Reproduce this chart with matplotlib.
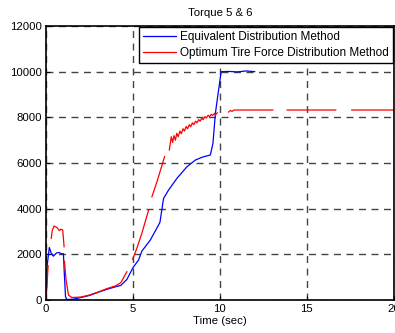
import numpy as np
import matplotlib
matplotlib.use('Agg')
import matplotlib.pyplot as plt

plt.rcParams['font.family'] = ['Liberation Sans', 'DejaVu Sans']
plt.rcParams['font.size'] = 8

nan = np.nan

# Equivalent Distribution Method (blue)
t_equiv = [0.0, 0.08, 0.19, 0.3, 0.42, 0.6, 0.75, 0.9, 1.0, 1.05, 1.12, 1.2,
           1.6, 2.0, 2.5, 3.0, 3.5, 4.0, 4.3, 4.65, 5.0, 5.32, 5.51, 6.0,
           6.47, 6.55, 6.76, 7.05, 7.53, 8.11, 8.59, 9.0, 9.45, 9.6, 9.74,
           10.07, 10.5, 11.0, 11.5, 12.0]
v_equiv = [0, 1600, 2300, 2050, 1920, 2060, 2080, 2020, 2030, 1200, 150, 20,
           40, 110, 200, 340, 470, 580, 640, 900, 1420, 1750, 2140, 2630,
           3285, 3400, 4450, 4820, 5330, 5840, 6130, 6260, 6350, 6860, 8180,
           10000, 10010, 9990, 10030, 10000]

# Optimum Tire Force Distribution Method (red), NaN marks gaps
t_optim = [0.0, 0.06, 0.12, nan,
           0.3, 0.36, 0.46, 0.62, 0.77, 0.85, 0.96, 1.04, nan,
           1.06, 1.15, 1.29, 1.48, 2.0, 2.5, 3.0, 3.5, 4.0, 4.3, 4.65, nan,
           4.98, 5.22, 5.51, 5.9, nan,
           6.09, 6.38, 6.82, nan,
           7.09, 7.2, 7.28, 7.36, 7.44, 7.52, 7.6, 7.7, 7.78, 7.88, 7.96,
           8.06, 8.14, 8.24, 8.32, 8.42, 8.5, 8.6, 8.68, 8.78, 8.86, 8.96,
           9.04, 9.14, 9.22, 9.32, 9.4, 9.5, 9.58, 9.68, 9.76, 9.85, nan,
           10.5, 10.6, 10.7, 10.8, 13.04, nan,
           13.87, 16.66, nan,
           17.58, 20.0]
v_optim = [0, 700, 1500, nan,
           2700, 3050, 3240, 3180, 3040, 3100, 3070, 2330, nan,
           1700, 900, 220, 110, 130, 220, 350, 500, 620, 760, 1240, nan,
           1780, 2260, 2920, 3940, nan,
           4520, 5180, 6280, nan,
           6570, 7150, 6900, 7200, 7000, 7300, 7150, 7400, 7280, 7500, 7400,
           7600, 7500, 7680, 7590, 7760, 7680, 7830, 7760, 7900, 7830, 7960,
           7900, 8030, 7970, 8090, 8030, 8130, 8080, 8170, 8120, 8200, nan,
           8230, 8300, 8260, 8320, 8320, nan,
           8320, 8320, nan,
           8320, 8320]

x_ticks = [0, 5, 10, 15, 20]
y_ticks = [0, 2000, 4000, 6000, 8000, 10000, 12000]

fig = plt.figure(figsize=(3.95, 3.33), dpi=100)
ax = fig.add_axes([0.1165, 0.099, 0.8805, 0.823])

ax.plot(t_equiv, v_equiv, color='#0000ff', lw=0.9, label='Equivalent Distribution Method')
ax.plot(t_optim, v_optim, color='#ff0000', lw=0.9, label='Optimum Tire Force Distribution Method')

ax.set_xlim(0, 20)
ax.set_ylim(0, 12000)
ax.set_xticks(x_ticks)
ax.set_yticks(y_ticks)
ax.grid(True, color='#444444', lw=1.0, linestyle=(0, (5, 4)))
ax.tick_params(direction='in', length=3, width=0.8, labelsize=8.2, pad=3)
for sp in ax.spines.values():
    sp.set_linewidth(1.2)

ax.set_title('Torque 5 & 6', fontsize=8.2, pad=7)
ax.set_xlabel('Time (sec)', fontsize=8.2, labelpad=1)

leg = ax.legend(loc='upper right', fontsize=8.5, borderaxespad=0.1, fancybox=False,
                framealpha=1, edgecolor='black', handlelength=2.8, handletextpad=0.4,
                labelspacing=0.4, borderpad=0.3)
leg.get_frame().set_linewidth(1.0)

fig.savefig('out.png', dpi=100)
